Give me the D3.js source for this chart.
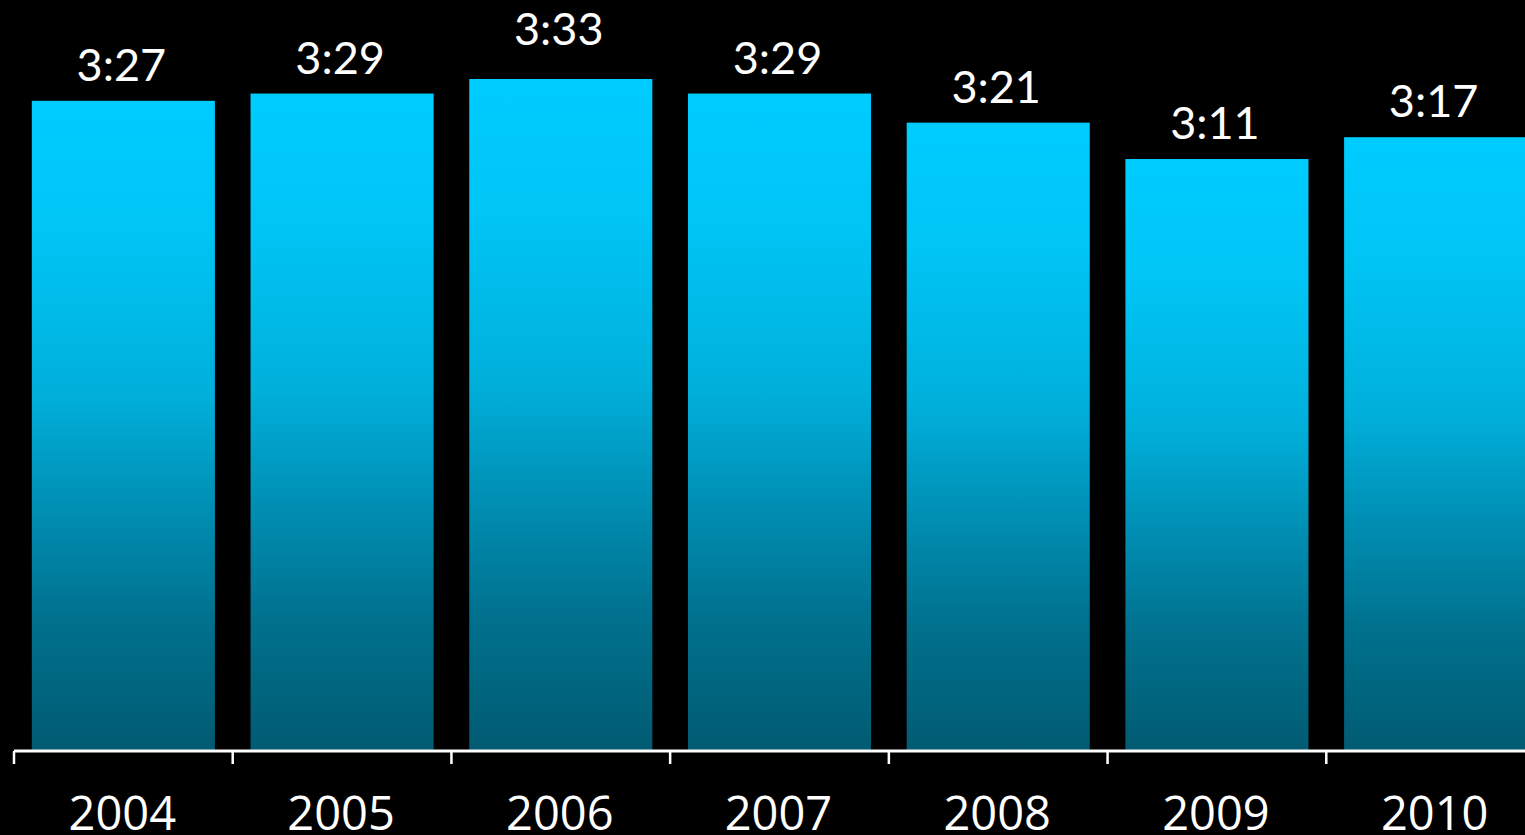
<!DOCTYPE html>
<html>
<head>
<meta charset="utf-8">
<script src="https://cdn.jsdelivr.net/npm/d3@7"></script>
<style>
  html, body { margin: 0; padding: 0; background: #000; overflow: hidden; }
  svg { display: block; }
</style>
</head>
<body>
<svg id="chart"></svg>
<script>
const years = ["2004", "2005", "2006", "2007", "2008", "2009", "2010"];
// time as h:mm, stored in minutes
const minutes = [207, 209, 213, 209, 201, 191, 197];
const labels = ["3:27", "3:29", "3:33", "3:29", "3:21", "3:11", "3:17"];

const width = 1525, height = 835;
const svg = d3.select("#chart").attr("width", width).attr("height", height);

const data = years.map((y, i) => ({ year: y, value: minutes[i], label: labels[i] }));

const x = d3.scaleBand()
  .domain(years)
  .range([14, 1545])
  .paddingInner(0.163)
  .paddingOuter(0.0815);

// baseline is not at zero in the original chart
const y = d3.scaleLinear()
  .domain([28.5, 213])
  .range([750, 79]);

// gradient for each bar
const grad = svg.append("defs").append("linearGradient")
  .attr("id", "barGrad")
  .attr("x1", 0).attr("y1", 0).attr("x2", 0).attr("y2", 1);
[[0, "#00ccff"], [0.2, "#00c5f5"], [0.45, "#00b0db"], [0.62, "#0090b5"], [0.8, "#00718e"], [1, "#015b72"]]
  .forEach(s => grad.append("stop").attr("offset", s[0]).attr("stop-color", s[1]));

svg.selectAll(".bar")
  .data(data)
  .enter()
  .append("rect")
  .attr("class", "bar")
  .attr("x", d => x(d.year))
  .attr("y", d => y(d.value))
  .attr("width", x.bandwidth())
  .attr("height", d => y.range()[0] - y(d.value))
  .attr("fill", "url(#barGrad)");

// value labels (the tallest one sits a bit higher in the original)
const maxVal = d3.max(minutes);
svg.selectAll(".val")
  .data(data)
  .enter()
  .append("text")
  .attr("class", "val")
  .attr("x", d => x(d.year) + x.bandwidth() / 2 - 2)
  .attr("y", d => y(d.value) - (d.value === maxVal ? 34 : 20))
  .attr("text-anchor", "middle")
  .attr("fill", "#fff")
  .style("font-family", "Lato, 'Open Sans', sans-serif")
  .style("font-size", "45px")
  .text(d => d.label);

// x axis: line plus ticks at band boundaries
const half = x.step() * x.paddingInner() / 2;
const axis = svg.append("g");
axis.append("line")
  .attr("x1", 14).attr("x2", width)
  .attr("y1", 751).attr("y2", 751)
  .attr("stroke", "#fff").attr("stroke-width", 3);

axis.selectAll(".tick")
  .data(years)
  .enter()
  .append("line")
  .attr("x1", d => x(d) - half).attr("x2", d => x(d) - half)
  .attr("y1", 751).attr("y2", 764)
  .attr("stroke", "#fff").attr("stroke-width", 2.5);

axis.selectAll(".yr")
  .data(years)
  .enter()
  .append("text")
  .attr("x", d => x(d) + x.bandwidth() / 2 - 1)
  .attr("y", 830)
  .attr("text-anchor", "middle")
  .attr("fill", "#fff")
  .style("font-family", "'Open Sans', sans-serif")
  .style("font-size", "47px")
  .text(d => d);
</script>
</body>
</html>
